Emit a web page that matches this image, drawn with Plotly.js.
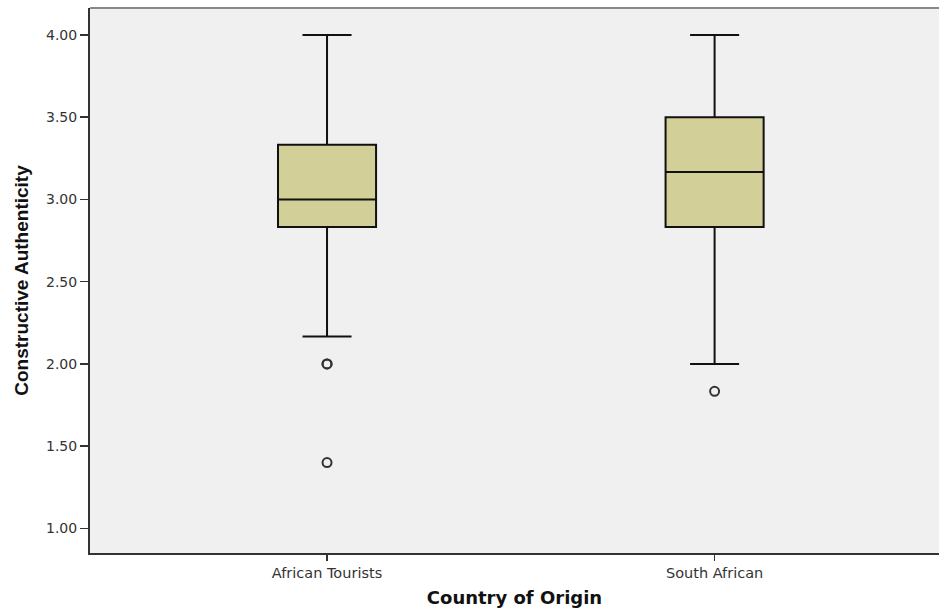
<!DOCTYPE html>
<html>
<head>
<meta charset="utf-8">
<script src="https://cdn.plot.ly/plotly-3.0.1.min.js"></script>
<style>html,body{margin:0;padding:0;background:#fff;}#chart{width:939px;height:611px;}</style>
</head>
<body>
<div id="chart"></div>
<script>
var categories = ["African Tourists", "South African"];
var lowerWhisker = [2.167, 2.00];
var q1Values = [2.833, 2.833];
var medianValues = [3.00, 3.167];
var q3Values = [3.333, 3.50];
var upperWhisker = [4.00, 4.00];
var outlierCategories = ["African Tourists", "African Tourists", "African Tourists", "South African"];
var outlierValues = [2.00, 2.00, 1.40, 1.833];
var yTickValues = [1.0, 1.5, 2.0, 2.5, 3.0, 3.5, 4.0];
var yTickLabels = ["1.00", "1.50", "2.00", "2.50", "3.00", "3.50", "4.00"];

var boxTrace = {
  type: "box",
  x: categories,
  q1: q1Values,
  median: medianValues,
  q3: q3Values,
  lowerfence: lowerWhisker,
  upperfence: upperWhisker,
  fillcolor: "#d3cf98",
  line: {color: "#111", width: 2},
  width: 0.253,
  whiskerwidth: 0.5,
  boxpoints: false,
  hoverinfo: "skip",
  showlegend: false
};

var outlierTrace = {
  type: "scatter",
  mode: "markers",
  x: outlierCategories,
  y: outlierValues,
  marker: {symbol: "circle-open", size: 9, color: "#333", line: {width: 2, color: "#333"}},
  hoverinfo: "skip",
  showlegend: false
};

var layout = {
  width: 939,
  height: 611,
  margin: {l: 90, r: 0, t: 8, b: 58},
  paper_bgcolor: "#ffffff",
  plot_bgcolor: "#f0f0f0",
  font: {family: "DejaVu Sans, sans-serif", color: "#333", size: 13},
  xaxis: {
    type: "category",
    range: [-0.6116, 1.579],
    showgrid: false,
    zeroline: false,
    showline: true,
    linecolor: "#333",
    linewidth: 2,
    ticks: "outside",
    ticklen: 6,
    tickwidth: 1.5,
    tickcolor: "#333",
    tickfont: {size: 14.5, color: "#333", family: "DejaVu Sans, sans-serif"},
    title: {text: "Country of Origin", font: {size: 18, color: "#111", family: "DejaVu Sans, sans-serif", weight: "bold"}, standoff: 11}
  },
  yaxis: {
    range: [0.85, 4.164],
    tickvals: yTickValues,
    ticktext: yTickLabels,
    showgrid: false,
    zeroline: false,
    showline: true,
    linecolor: "#333",
    linewidth: 2,
    ticks: "outside",
    ticklen: 8,
    tickwidth: 1.5,
    tickcolor: "#333",
    tickfont: {size: 14, color: "#333", family: "DejaVu Sans, sans-serif"},
    title: {text: "Constructive Authenticity", font: {size: 19, color: "#111", family: "Liberation Sans Narrow, Arial Narrow, Liberation Sans, sans-serif", weight: "bold"}, standoff: 12}
  },
  shapes: [
    {type: "line", xref: "paper", yref: "paper", x0: 0, x1: 1, y0: 1, y1: 1, line: {color: "#888", width: 2}}
  ]
};

Plotly.newPlot("chart", [boxTrace, outlierTrace], layout, {displayModeBar: false, staticPlot: true});
</script>
</body>
</html>
